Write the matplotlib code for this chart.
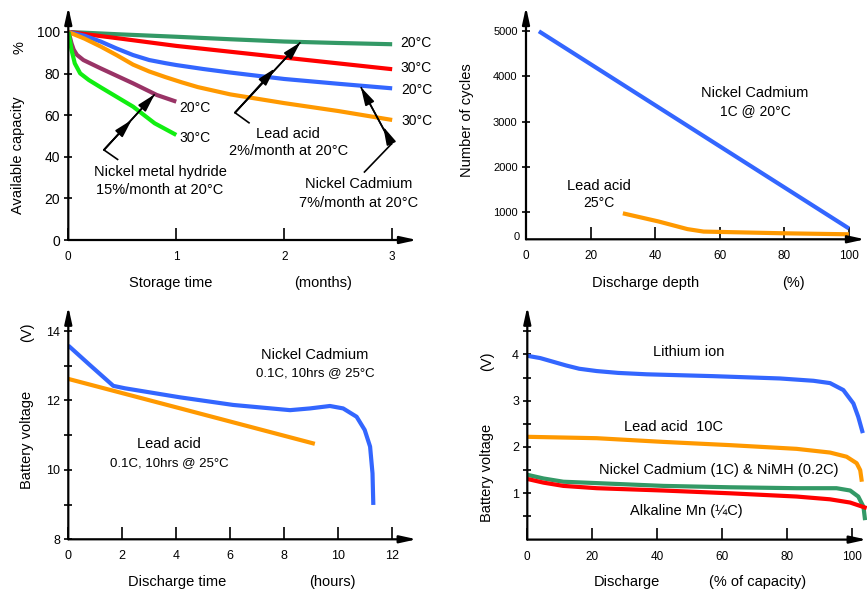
import numpy as np
import matplotlib
matplotlib.use("Agg")
import matplotlib.pyplot as plt
from matplotlib.ticker import FixedLocator

plt.rcParams['font.family'] = ['Liberation Sans', 'DejaVu Sans']
plt.rcParams['lines.solid_joinstyle'] = 'round'
plt.rcParams['lines.solid_capstyle'] = 'butt'

# ---- top left: self discharge (months vs % capacity)
t_lead = [0, 0.5, 1, 1.5, 2, 2.5, 3]
lead_20 = [100, 98.8, 97.7, 96.5, 95.4, 94.7, 94.1]
lead_30 = [100, 96.7, 93.3, 90.5, 87.7, 84.9, 82.1]
t_nicd_20 = [0, 0.15, 0.3, 0.45, 0.6, 0.75, 0.9, 1.0, 1.25, 1.5, 2, 2.5, 3]
nicd_20 = [100, 98.2, 95.4, 92, 88.9, 86.5, 85, 84.1, 82.2, 80.5, 77.4, 75.1, 72.9]
t_nicd_30 = [0, 0.15, 0.3, 0.45, 0.6, 0.75, 0.9, 1.05, 1.2, 1.5, 2, 2.5, 3]
nicd_30 = [100, 96.8, 93, 88.8, 84.3, 81, 78.3, 75.8, 73.5, 70, 65.8, 62, 57.7]
t_nimh_20 = [0, 0.015, 0.03, 0.05, 0.08, 0.14, 0.3, 0.6, 0.82, 1.0]
nimh_20 = [100, 97.5, 94.5, 91.5, 89, 86.5, 82.5, 75.3, 69.7, 66.5]
t_nimh_30 = [0, 0.015, 0.03, 0.06, 0.11, 0.19, 0.3, 0.6, 0.8, 1.0]
nimh_30 = [100, 96, 91.3, 84.9, 80.1, 76.9, 73.4, 64.1, 56.1, 50.5]

# ---- top right: cycle life vs depth of discharge
dod_nicd = [4, 100]
cycles_nicd = [5000, 630]
dod_lead = [30, 41, 50, 55, 80, 100]
cycles_lead = [965, 785, 615, 560, 522, 500]

# ---- bottom left: 12V pack discharge
h_nicd = [0, 0.8, 1.67, 2.1, 4.14, 6.12, 8.23, 8.97, 9.71, 10.2, 10.7, 11.0, 11.2, 11.29, 11.32]
v_nicd = [13.58, 13.02, 12.42, 12.35, 12.09, 11.87, 11.72, 11.77, 11.84, 11.77, 11.53, 11.15, 10.67, 9.9, 8.99]
h_lead = [0, 9.15]
v_lead = [12.62, 10.75]

# ---- bottom right: cell discharge curves
pct_li = [0, 4, 8, 12, 16, 21.4, 28, 36.8, 57.3, 77.9, 88.2, 93.3, 97.4, 100.5, 102, 103.4]
v_li = [3.97, 3.92, 3.84, 3.76, 3.69, 3.64, 3.60, 3.57, 3.53, 3.48, 3.43, 3.38, 3.23, 2.94, 2.65, 2.30]
pct_pb = [0, 21.4, 41.9, 62.5, 83, 93.3, 98.4, 101.5, 102.6, 103.1]
v_pb = [2.22, 2.19, 2.11, 2.04, 1.96, 1.88, 1.79, 1.65, 1.50, 1.25]
pct_ni = [0, 5, 11.1, 21.4, 41.9, 62.5, 83, 95.3, 99.5, 102, 103.6, 104.1]
v_ni = [1.40, 1.32, 1.25, 1.22, 1.16, 1.13, 1.11, 1.11, 1.06, 0.93, 0.71, 0.42]
pct_alk = [0, 5, 11.1, 21.4, 41.9, 62.5, 83, 93.3, 99.5, 104.6]
v_alk = [1.31, 1.23, 1.16, 1.11, 1.06, 1.00, 0.93, 0.87, 0.80, 0.68]

BLUE = '#3366ff'
ORANGE = '#ff9900'
RED = '#ff0000'
DKGREEN = '#339966'
GREEN = '#11ee11'
PURPLE = '#993366'

W, H = 867, 592
fig = plt.figure(figsize=(W / 100, H / 100), dpi=100)


def px_axes(l, t, r, b):
    return fig.add_axes([l / W, 1 - b / H, (r - l) / W, (b - t) / H])


def label(px, py, s, size=10.5, rot=0, ha='center'):
    fig.text(px / W, 1 - py / H, s, fontsize=size, rotation=rot, ha=ha, va='center')


def arrow_axes(ax, ysize, xsize):
    for s in ax.spines.values():
        s.set_visible(False)
    ap = dict(arrowstyle='-|>,head_length=1.0,head_width=0.22', color='k', lw=1.6,
              shrinkA=0, shrinkB=0, mutation_scale=10)
    ax.annotate('', xy=(1, 0), xytext=(0, 0), xycoords='axes fraction', arrowprops=ap)
    ax.annotate('', xy=(0, 1), xytext=(0, 0), xycoords='axes fraction', arrowprops=ap)
    ax.tick_params(axis='y', which='both', direction='inout', length=6, width=1.2,
                   pad=3, labelsize=ysize)
    ax.tick_params(axis='x', which='both', direction='in', length=9, width=1.2,
                   pad=8, labelsize=xsize)
    ax.patch.set_visible(False)


def pointer(ax, tail, knee, mid, end):
    ax.plot([tail[0], knee[0], end[0]], [tail[1], knee[1], end[1]], color='k', lw=1.2,
            clip_on=False)
    ap = dict(arrowstyle='-|>,head_length=1.1,head_width=0.3', color='k', lw=1.2,
              shrinkA=0, shrinkB=0, mutation_scale=10)
    ax.annotate('', xy=mid, xytext=knee, arrowprops=ap)
    ax.annotate('', xy=end, xytext=knee, arrowprops=ap)


LW = 3

# ================= top left
ax1 = px_axes(68.3, 7, 417, 240)
ax1.set_xlim(0, 3.23)
ax1.set_ylim(0, 112)
ax1.plot(t_lead, lead_20, color=DKGREEN, lw=LW)
ax1.plot(t_lead, lead_30, color=RED, lw=LW)
ax1.plot(t_nicd_20, nicd_20, color=BLUE, lw=LW)
ax1.plot(t_nicd_30, nicd_30, color=ORANGE, lw=LW)
ax1.plot(t_nimh_20, nimh_20, color=PURPLE, lw=LW)
ax1.plot(t_nimh_30, nimh_30, color=GREEN, lw=LW)
ax1.set_xticks([0, 1, 2, 3])
ax1.set_yticks([0, 20, 40, 60, 80, 100])
arrow_axes(ax1, 10, 8.5)
pointer(ax1, (0.463, 38.5), (0.33, 43.3), (0.587, 57.7), (0.80, 70))
pointer(ax1, (1.68, 56.1), (1.544, 61.2), (1.914, 82.5), (2.15, 95.0))
pointer(ax1, (2.738, 32.4), (2.994, 46.2), (2.917, 54.5), (2.71, 73.5))

for px, py, s in [(416, 42.7, '20°C'), (416, 68.3, '30°C'), (416.7, 90, '20°C'),
                  (417.3, 120.7, '30°C'), (195, 107.7, '20°C'), (195, 138.3, '30°C')]:
    label(px, py, s, 10)
label(288.3, 134, 'Lead acid')
label(288.3, 150.7, '2%/month at 20°C')
label(160, 171.7, 'Nickel metal hydride')
label(160, 190, '15%/month at 20°C')
label(358.3, 184.3, 'Nickel Cadmium')
label(358.3, 202.7, '7%/month at 20°C')
label(20, 48, '%', rot=90)
label(18.5, 155, 'Available capacity', rot=90)
label(170.7, 282.7, 'Storage time')
label(323.3, 282.7, '(months)')

# ================= top right
ax2 = px_axes(526, 7, 865, 239.3)
ax2.set_xlim(0, 105)
ax2.set_ylim(389, 5538)
ax2.plot(dod_nicd, cycles_nicd, color=BLUE, lw=LW)
ax2.plot(dod_lead, cycles_lead, color=ORANGE, lw=LW)
ax2.set_xticks([0, 20, 40, 60, 80, 100])
ax2.set_yticks([1000, 2000, 3000, 4000, 5000])
arrow_axes(ax2, 8, 8.5)
label(520, 237, '0', 8, ha='right')
label(755, 92.7, 'Nickel Cadmium')
label(755, 111, '1C @ 20°C', 10)
label(599.3, 186, 'Lead acid')
label(599.3, 203.3, '25°C', 10)
label(467.3, 120, 'Number of cycles', rot=90)
label(646, 282.7, 'Discharge depth')
label(793.3, 282.7, '(%)')

# ================= bottom left
ax3 = px_axes(68.3, 306.7, 416.7, 539.3)
ax3.set_xlim(0, 12.93)
ax3.set_ylim(8, 14.7)
ax3.plot(h_nicd, v_nicd, color=BLUE, lw=LW)
ax3.plot(h_lead, v_lead, color=ORANGE, lw=LW)
ax3.set_xticks([0, 2, 4, 6, 8, 10, 12])
ax3.set_yticks([8, 10, 12, 14])
ax3.yaxis.set_minor_locator(FixedLocator([9, 11, 13]))
arrow_axes(ax3, 9, 9)
label(315, 355, 'Nickel Cadmium')
label(315, 373.3, '0.1C, 10hrs @ 25°C', 9.5)
label(169, 444, 'Lead acid')
label(169, 462.7, '0.1C, 10hrs @ 25°C', 9.5)
label(27, 440, 'Battery voltage', rot=90)
label(27, 332, '(V)', rot=90)
label(177, 581.7, 'Discharge time')
label(332, 581.7, '(hours)')

# ================= bottom right
ax4 = px_axes(527.3, 306.7, 866.7, 539.6)
ax4.set_xlim(0, 104.6)
ax4.set_ylim(0, 5.03)
ax4.plot(pct_li, v_li, color=BLUE, lw=LW, clip_on=False)
ax4.plot(pct_pb, v_pb, color=ORANGE, lw=LW, clip_on=False)
ax4.plot(pct_ni, v_ni, color=DKGREEN, lw=LW, clip_on=False)
ax4.plot(pct_alk, v_alk, color=RED, lw=LW, clip_on=False)
ax4.set_xticks([0, 20, 40, 60, 80, 100])
ax4.set_yticks([1, 2, 3, 4])
ax4.yaxis.set_minor_locator(FixedLocator([0.5, 1.5, 2.5, 3.5, 4.5]))
arrow_axes(ax4, 9, 8.5)
label(688.3, 351.7, 'Lithium ion')
label(673.3, 426.7, 'Lead acid  10C')
label(718.3, 470, 'Nickel Cadmium (1C) & NiMH (0.2C)')
label(686.7, 510.7, 'Alkaline Mn (¼C)')
label(486.7, 473, 'Battery voltage', rot=90)
label(486.7, 361.7, '(V)', rot=90)
label(626.7, 581.7, 'Discharge')
label(758, 581.7, '(% of capacity)')

fig.savefig('out.png', dpi=100)
